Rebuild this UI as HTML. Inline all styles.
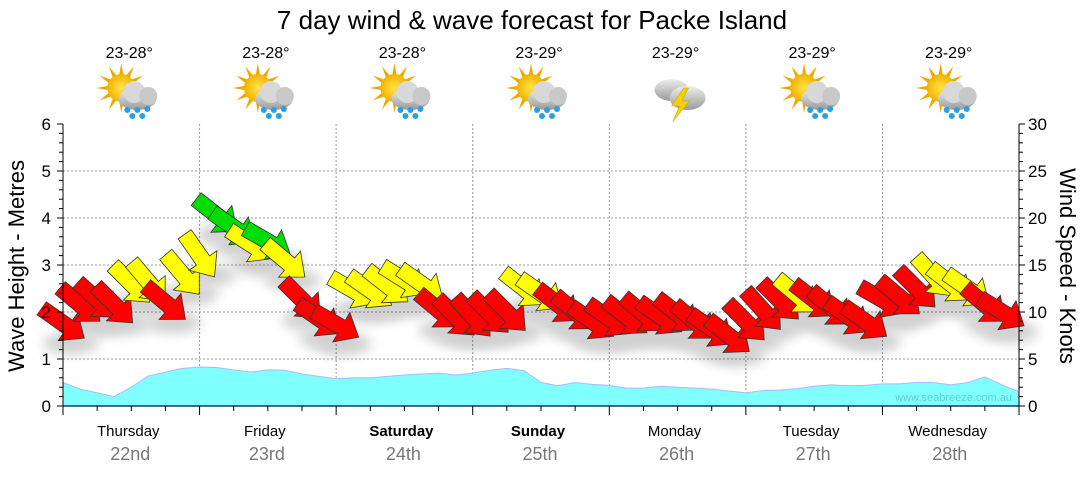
<!DOCTYPE html>
<html><head><meta charset="utf-8">
<style>
html,body{margin:0;padding:0;background:#fff;}
body{width:1080px;height:475px;overflow:hidden;font-family:"Liberation Sans",sans-serif;}
</style></head>
<body>
<svg id="chart" width="1080" height="475" viewBox="0 0 1080 475" xmlns="http://www.w3.org/2000/svg">
<defs>
<radialGradient id="sunG" cx="0.5" cy="0.5" r="0.5"><stop offset="0" stop-color="#ffe34a"/><stop offset="1" stop-color="#f2b400"/></radialGradient>
<linearGradient id="cloudG" x1="0" y1="0" x2="0" y2="1"><stop offset="0" stop-color="#eeeeee"/><stop offset="1" stop-color="#9a9a9a"/></linearGradient>
<filter id="shadow" x="-30%" y="-30%" width="160%" height="180%"><feGaussianBlur stdDeviation="6"/></filter>
</defs>
<text x="532" y="29" font-size="26" text-anchor="middle" fill="#000">7 day wind &amp; wave forecast for Packe Island</text>
<g id="grid"></g>
<g id="wave"></g>
<g id="shadows" opacity="0.18"></g>
<g id="wind"></g>
<g id="axes"></g>
<g id="header"></g>
<text x="1012" y="401" font-size="11" text-anchor="end" fill="#5fd0d8">www.seabreeze.com.au</text>
<text transform="translate(24,266) rotate(-90)" font-size="22" text-anchor="middle" fill="#000">Wave Height - Metres</text>
<text transform="translate(1060,266) rotate(90)" font-size="22" text-anchor="middle" fill="#000">Wind Speed - Knots</text>
</svg>
<script>
const days = ["Thursday","Friday","Saturday","Sunday","Monday","Tuesday","Wednesday"];
const dates = ["22nd","23rd","24th","25th","26th","27th","28th"];
const boldDays = [false,false,true,true,false,false,false];
const temps = ["23-28°","23-28°","23-28°","23-29°","23-29°","23-29°","23-29°"];
const icons = ["rain","rain","rain","rain","storm","rain","rain"];
const waveTicks = [0,1,2,3,4,5,6];
const windTicks = [0,5,10,15,20,25,30];
// 3-hourly wave height (m)
const waveHeights = [0.5,0.36,0.28,0.2,0.4,0.64,0.72,0.8,0.83,0.82,0.77,0.72,0.77,0.76,0.68,0.63,0.58,0.6,0.6,0.63,0.66,0.68,0.7,0.66,0.7,0.76,0.8,0.75,0.5,0.43,0.5,0.46,0.44,0.38,0.38,0.42,0.4,0.38,0.36,0.32,0.28,0.33,0.34,0.37,0.42,0.45,0.43,0.44,0.47,0.47,0.5,0.5,0.45,0.5,0.62,0.45,0.3];
// 3-hourly wind speed (knots)
const windSpeeds = [8.8,10.8,11.3,10.8,13.0,13.2,11.0,14.0, 16.0,20.3,19.0,17.2,17.5,15.5,11.3,9.3, 8.7,12.3,12.3,12.8,13.4,13.0,10.2,9.5, 9.5,9.8,10.0,12.5,12.0,10.8,10.0,9.0, 9.3,9.5,9.8,9.5,9.8,9.0,8.2,7.5, 9.0,10.2,11.2,11.8,11.3,10.5,9.5,9.0, 11.3,11.6,12.5,13.8,13.0,12.5,10.8,10.0];
// arrow direction (degrees clockwise from east, pointing toward)
const windDirs = [35,40,42,45,45,50,40,50, 55,38,35,33,30,40,45,35, 30,30,35,38,32,35,40,45, 48,45,45,38,35,38,40,35, 35,38,40,35,38,40,35,38, 45,48,45,40,38,40,35,35, 30,40,45,48,38,35,40,32];
const windColors = ["r","r","r","r","y","y","r","y", "y","g","g","y","g","y","r","r", "r","y","y","y","y","y","r","r", "r","r","r","y","y","r","r","r", "r","r","r","r","r","r","r","r", "r","r","r","y","r","r","r","r", "r","r","r","y","y","y","r","r"];

const X0=63, X1=1019, Y0=406, Y1=124;
const dayW=(X1-X0)/7;
const xAt = i => X0 + i*dayW/8;
const yWave = m => Y0 - (m/6)*(Y0-Y1);
const yWind = k => Y0 - (k/30)*(Y0-Y1);
const NS="http://www.w3.org/2000/svg";
function mk(tag, attrs, parent){const e=document.createElementNS(NS,tag);for(const k in attrs)e.setAttribute(k,attrs[k]);parent.appendChild(e);return e;}
const grid=document.getElementById('grid'), axes=document.getElementById('axes'), header=document.getElementById('header');

waveTicks.forEach(t=>{ if(t>0&&t<6){const y=yWave(t);
  const l=mk('line',{x1:X0,x2:X1,y1:y,y2:y,stroke:'#999','stroke-dasharray':'2,2','stroke-width':1},grid);
   }});
for(let d=1;d<7;d++){const x=X0+d*dayW;
  const l=mk('line',{x1:x,x2:x,y1:Y1,y2:Y0,stroke:'#999','stroke-dasharray':'2,2','stroke-width':1},grid);
   }

let pts=[[X0,Y0]];
waveHeights.forEach((h,i)=>pts.push([xAt(i),yWave(h)]));
pts.push([xAt(waveHeights.length-1),Y0]);
const wa=mk('polygon',{points:pts.map(p=>p.join(',')).join(' '),fill:'#80ffff',stroke:'#aab8ff','stroke-width':1},document.getElementById('wave'));
 

const colMap={r:'#ff0000',y:'#ffff00',g:'#00dd00'};
const arrowPath="M-26,-8 L6,-8 L6,-17 L26,0 L6,17 L6,8 L-26,8 Z";
const wind=document.getElementById('wind'), sh=document.getElementById('shadows');
windSpeeds.forEach((k,i)=>{
  const x=xAt(i), y=yWind(k);
  const s=mk('ellipse',{cx:x+8,cy:y+20,rx:28,ry:11,fill:'#000',filter:'url(#shadow)'},sh);
   
  const a=mk('path',{d:arrowPath,transform:`translate(${x},${y}) rotate(${windDirs[i]})`,fill:colMap[windColors[i]],stroke:'#333','stroke-width':0.8},wind);
   
});

const la=mk('line',{x1:X0,x2:X0,y1:Y1,y2:Y0,stroke:'#000'},axes);  
const ra=mk('line',{x1:X1,x2:X1,y1:Y1,y2:Y0,stroke:'#000'},axes);  
const ba=mk('line',{x1:X0,x2:X1,y1:Y0,y2:Y0,stroke:'#0a3a6a','stroke-width':1.5},axes);  
for(let j=0;j<=30;j++){const y=Y0-j*(Y0-Y1)/30; const major=j%5==0;
  const t1=mk('line',{x1:X0-(major?6:4),x2:X0,y1:y,y2:y,stroke:'#000'},axes);  
  const t2=mk('line',{x1:X1,x2:X1+(major?6:4),y1:y,y2:y,stroke:'#000'},axes);  }
waveTicks.forEach(t=>{const tx=mk('text',{x:51,y:yWave(t)+6,'font-size':17,'text-anchor':'end',fill:'#000'},axes);tx.textContent=t;
   });
windTicks.forEach(t=>{const tx=mk('text',{x:1028,y:yWind(t)+6,'font-size':17,'text-anchor':'start',fill:'#000'},axes);tx.textContent=t;
   });
for(let q=0;q<=28;q++){const x=X0+q*dayW/4; const major=q%4==0;
  const t=mk('line',{x1:x,x2:x,y1:Y0,y2:Y0+(major?9:5),stroke:'#000'},axes);  }

function icon(g,cx,cy,type){
  if(type==='rain'){
    const sx=cx-10, sy=cy-8;
    for(let r=0;r<12;r++){const a=r*Math.PI/6; mk('polygon',{points:`${sx+Math.cos(a-0.2)*12},${sy+Math.sin(a-0.2)*12} ${sx+Math.cos(a)*25},${sy+Math.sin(a)*25} ${sx+Math.cos(a+0.2)*12},${sy+Math.sin(a+0.2)*12}`,fill:'#f0a800'},g);}
    mk('circle',{cx:sx,cy:sy,r:14,fill:'url(#sunG)'},g);
    mk('ellipse',{cx:cx+6,cy:cy+3,rx:19,ry:11,fill:'url(#cloudG)'},g);
    mk('circle',{cx:cx+3,cy:cy-4,r:11,fill:'#d8d8d8'},g);
    mk('circle',{cx:cx+17,cy:cy,r:9,fill:'#c8c8c8'},g);
    [[-4,14],[6,14],[16,13],[1,20],[11,20]].forEach(d=>mk('circle',{cx:cx+d[0],cy:cy+d[1],r:3,fill:'#2aa0e0'},g));
  } else {
    mk('ellipse',{cx:cx-6,cy:cy-6,rx:17,ry:11,fill:'url(#cloudG)'},g);
    mk('ellipse',{cx:cx+10,cy:cy+2,rx:18,ry:12,fill:'url(#cloudG)'},g);
    mk('polygon',{points:`${cx+6},${cy-8} ${cx-6},${cy+10} ${cx+2},${cy+10} ${cx-5},${cy+26} ${cx+12},${cy+5} ${cx+4},${cy+5} ${cx+11},${cy-8}`,fill:'#f5d000',stroke:'#d0a000','stroke-width':0.5},g);
  }
}
days.forEach((d,i)=>{const cx=X0+(i+0.5)*dayW;
  const t=mk('text',{x:cx-3,y:436,'font-size':15,'text-anchor':'middle',fill:'#000','font-weight':boldDays[i]?'bold':'normal'},axes); t.textContent=d;
   
  const dt=mk('text',{x:cx-1,y:460,'font-size':18,'text-anchor':'middle',fill:'#777'},axes); dt.textContent=dates[i];
   
  const tp=mk('text',{x:cx-2,y:58,'font-size':16,'text-anchor':'middle',fill:'#000'},header); tp.textContent=temps[i];
   
  const g=mk('g',{},header);  
  icon(g,cx,96,icons[i]);
});
</script>
</body></html>
